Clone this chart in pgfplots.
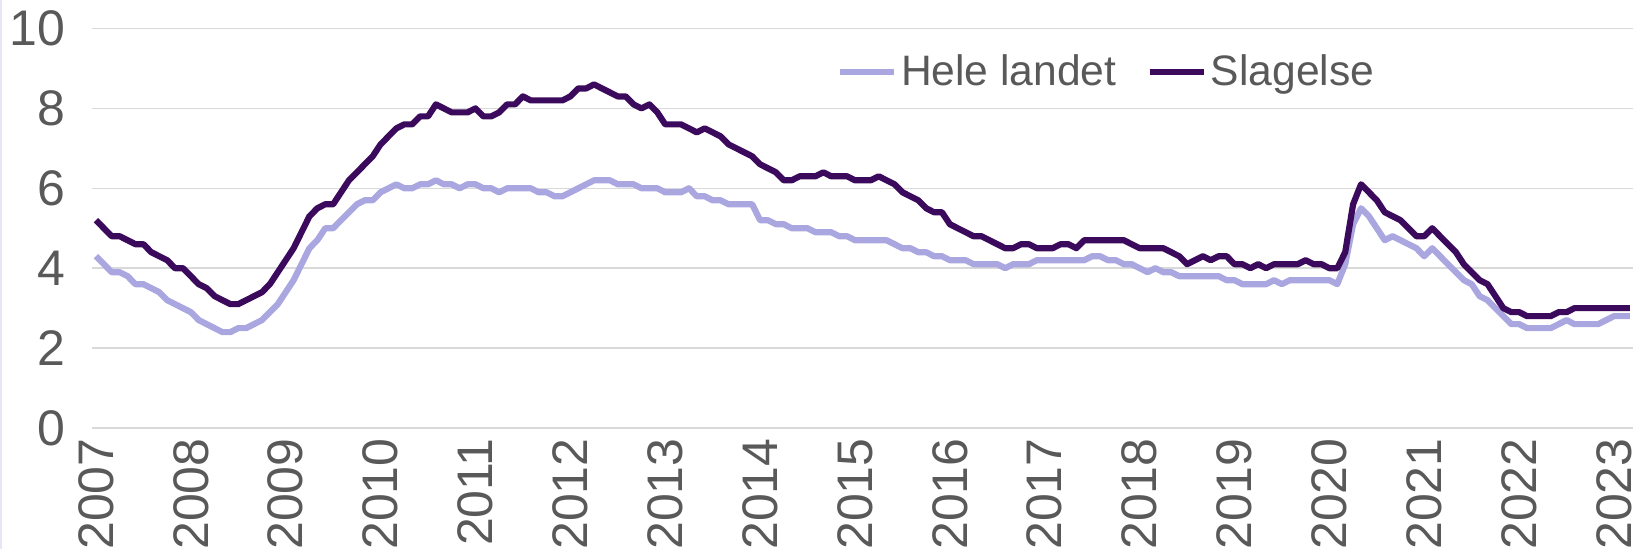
\documentclass[border=0pt]{standalone}
\usepackage{fontspec}
\setmainfont{Liberation Sans}
\usepackage{pgfplots}
\usepackage{pgfplotstable}
\pgfplotsset{compat=1.18}
\definecolor{hele}{HTML}{A9A6E0}
\definecolor{slag}{HTML}{3C0A5C}
\definecolor{txt}{HTML}{595959}
\definecolor{gridc}{HTML}{D9D9D9}
\definecolor{edgec}{HTML}{E6E6F4}

\pgfplotstableread[row sep=\\]{
h s\\
4.3 5.2\\ 4.1 5.0\\ 3.9 4.8\\ 3.9 4.8\\ 3.8 4.7\\ 3.6 4.6\\ 3.6 4.6\\ 3.5 4.4\\ 3.4 4.3\\ 3.2 4.2\\ 3.1 4.0\\ 3.0 4.0\\
2.9 3.8\\ 2.7 3.6\\ 2.6 3.5\\ 2.5 3.3\\ 2.4 3.2\\ 2.4 3.1\\ 2.5 3.1\\ 2.5 3.2\\ 2.6 3.3\\ 2.7 3.4\\ 2.9 3.6\\ 3.1 3.9\\
3.4 4.2\\ 3.7 4.5\\ 4.1 4.9\\ 4.5 5.3\\ 4.7 5.5\\ 5.0 5.6\\ 5.0 5.6\\ 5.2 5.9\\ 5.4 6.2\\ 5.6 6.4\\ 5.7 6.6\\ 5.7 6.8\\
5.9 7.1\\ 6.0 7.3\\ 6.1 7.5\\ 6.0 7.6\\ 6.0 7.6\\ 6.1 7.8\\ 6.1 7.8\\ 6.2 8.1\\ 6.1 8.0\\ 6.1 7.9\\ 6.0 7.9\\ 6.1 7.9\\
6.1 8.0\\ 6.0 7.8\\ 6.0 7.8\\ 5.9 7.9\\ 6.0 8.1\\ 6.0 8.1\\ 6.0 8.3\\ 6.0 8.2\\ 5.9 8.2\\ 5.9 8.2\\ 5.8 8.2\\ 5.8 8.2\\
5.9 8.3\\ 6.0 8.5\\ 6.1 8.5\\ 6.2 8.6\\ 6.2 8.5\\ 6.2 8.4\\ 6.1 8.3\\ 6.1 8.3\\ 6.1 8.1\\ 6.0 8.0\\ 6.0 8.1\\ 6.0 7.9\\
5.9 7.6\\ 5.9 7.6\\ 5.9 7.6\\ 6.0 7.5\\ 5.8 7.4\\ 5.8 7.5\\ 5.7 7.4\\ 5.7 7.3\\ 5.6 7.1\\ 5.6 7.0\\ 5.6 6.9\\ 5.6 6.8\\
5.2 6.6\\ 5.2 6.5\\ 5.1 6.4\\ 5.1 6.2\\ 5.0 6.2\\ 5.0 6.3\\ 5.0 6.3\\ 4.9 6.3\\ 4.9 6.4\\ 4.9 6.3\\ 4.8 6.3\\ 4.8 6.3\\
4.7 6.2\\ 4.7 6.2\\ 4.7 6.2\\ 4.7 6.3\\ 4.7 6.2\\ 4.6 6.1\\ 4.5 5.9\\ 4.5 5.8\\ 4.4 5.7\\ 4.4 5.5\\ 4.3 5.4\\ 4.3 5.4\\
4.2 5.1\\ 4.2 5.0\\ 4.2 4.9\\ 4.1 4.8\\ 4.1 4.8\\ 4.1 4.7\\ 4.1 4.6\\ 4.0 4.5\\ 4.1 4.5\\ 4.1 4.6\\ 4.1 4.6\\ 4.2 4.5\\
4.2 4.5\\ 4.2 4.5\\ 4.2 4.6\\ 4.2 4.6\\ 4.2 4.5\\ 4.2 4.7\\ 4.3 4.7\\ 4.3 4.7\\ 4.2 4.7\\ 4.2 4.7\\ 4.1 4.7\\ 4.1 4.6\\
4.0 4.5\\ 3.9 4.5\\ 4.0 4.5\\ 3.9 4.5\\ 3.9 4.4\\ 3.8 4.3\\ 3.8 4.1\\ 3.8 4.2\\ 3.8 4.3\\ 3.8 4.2\\ 3.8 4.3\\ 3.7 4.3\\
3.7 4.1\\ 3.6 4.1\\ 3.6 4.0\\ 3.6 4.1\\ 3.6 4.0\\ 3.7 4.1\\ 3.6 4.1\\ 3.7 4.1\\ 3.7 4.1\\ 3.7 4.2\\ 3.7 4.1\\ 3.7 4.1\\
3.7 4.0\\ 3.6 4.0\\ 4.1 4.4\\ 5.1 5.6\\ 5.5 6.1\\ 5.3 5.9\\ 5.0 5.7\\ 4.7 5.4\\ 4.8 5.3\\ 4.7 5.2\\ 4.6 5.0\\ 4.5 4.8\\
4.3 4.8\\ 4.5 5.0\\ 4.3 4.8\\ 4.1 4.6\\ 3.9 4.4\\ 3.7 4.1\\ 3.6 3.9\\ 3.3 3.7\\ 3.2 3.6\\ 3.0 3.3\\ 2.8 3.0\\ 2.6 2.9\\
2.6 2.9\\ 2.5 2.8\\ 2.5 2.8\\ 2.5 2.8\\ 2.5 2.8\\ 2.6 2.9\\ 2.7 2.9\\ 2.6 3.0\\ 2.6 3.0\\ 2.6 3.0\\ 2.6 3.0\\ 2.7 3.0\\
2.8 3.0\\ 2.8 3.0\\ 2.8 3.0\\
}\data

\begin{document}
\begin{tikzpicture}
\begin{axis}[
  scale only axis,
  width=770.5pt, height=199.75pt,
  xmin=-0.5, xmax=194.4, ymin=0, ymax=10,
  axis line style={draw=none},
  tick style={draw=none},
  ytick={0,2,4,6,8,10},
  xtick={0,12,24,36,48,60,72,84,96,108,120,132,144,156,168,180,192},
  xticklabels={2007,2008,2009,2010,2011,2012,2013,2014,2015,2016,2017,2018,2019,2020,2021,2022,2023},
  /pgf/number format/assume math mode=true,
  ymajorgrids,
  grid style={draw=gridc, line width=0.75pt},
  every tick label/.append style={font=\fontsize{25}{29}\selectfont, text=txt, inner sep=0pt},
  yticklabel style={anchor=east},
  yticklabel shift=13pt,
  xticklabel style={rotate=90, anchor=east},
  xticklabel shift=5pt,
  legend columns=2,
  legend style={draw=none, fill=none, at={(0.659,0.891)}, anchor=center,
    font=\fontsize{21.3}{25}\selectfont, text=txt,
    /tikz/every even column/.append style={column sep=13pt}},
  legend image code/.code={\draw[#1] (0pt,0pt) -- (27pt,0pt);},
]
\addplot[color=hele, line width=3.1pt, line join=round] table[x expr=\coordindex, y=h] {\data};
\addlegendentry{Hele landet}
\addplot[color=slag, line width=3.1pt, line join=round] table[x expr=\coordindex, y=s] {\data};
\addlegendentry{Slagelse}
\end{axis}
\draw[edgec, line width=1pt] ([xshift=-45.5pt,yshift=-60.5pt]current axis.south west) -- ([xshift=-45.5pt,yshift=14.25pt]current axis.north west);
\pgfresetboundingbox
\path ([xshift=-46pt,yshift=-60.5pt]current axis.south west) rectangle ([yshift=14.25pt]current axis.north east);
\end{tikzpicture}
\end{document}
